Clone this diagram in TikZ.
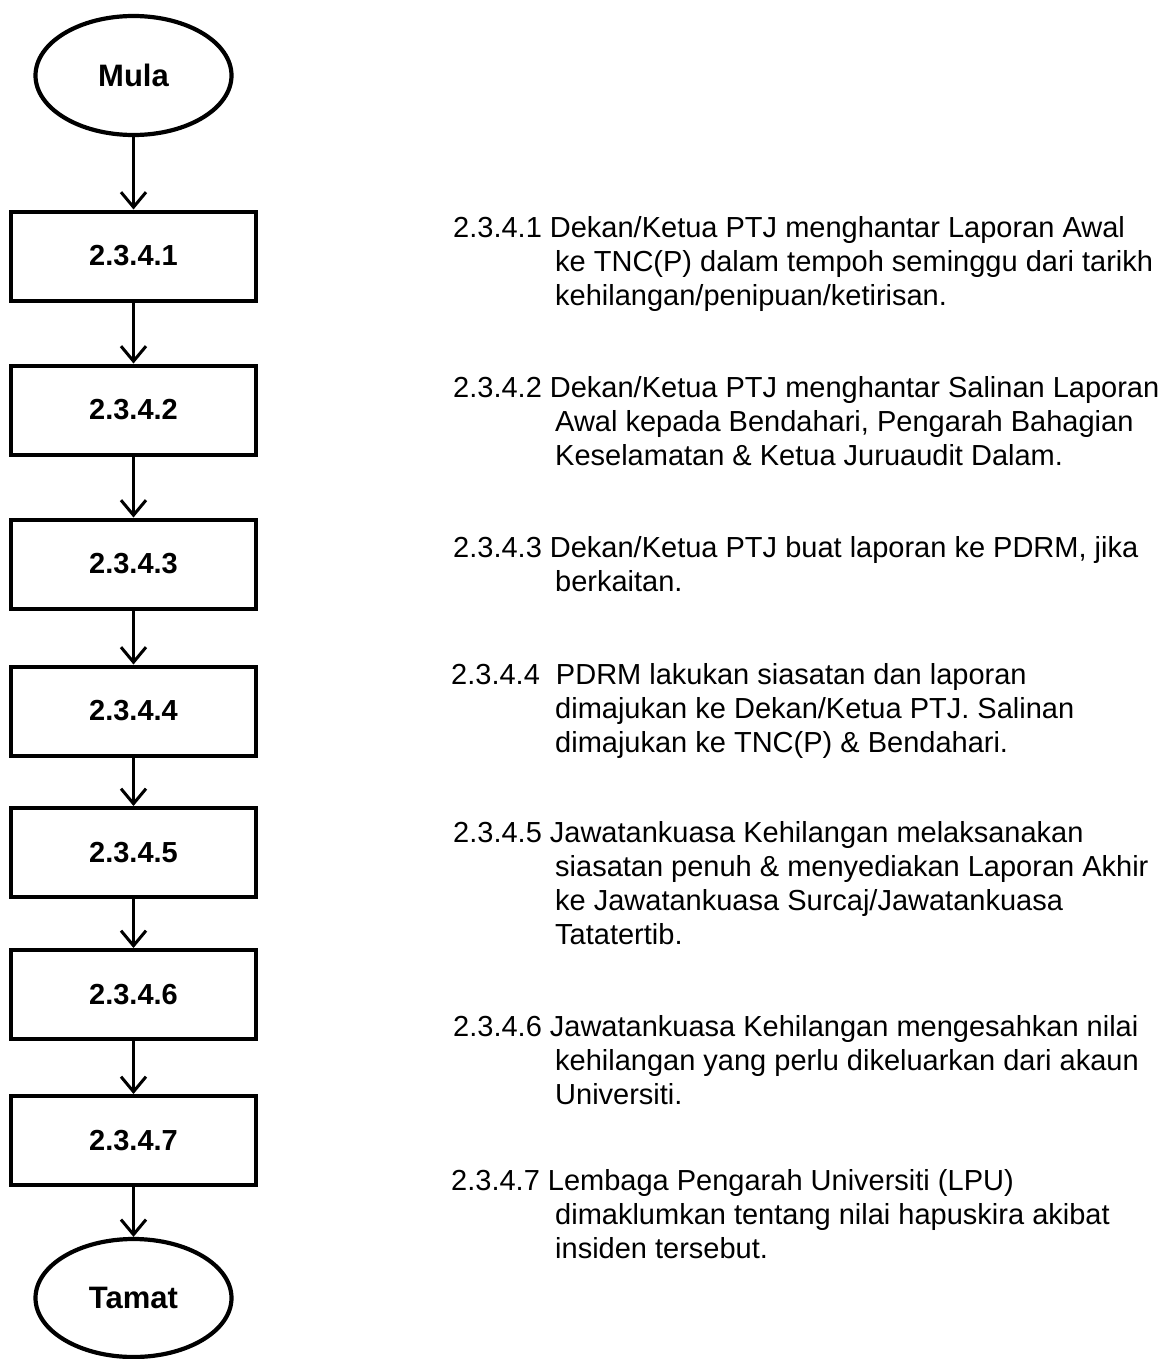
\documentclass[tikz,border=0pt]{standalone}
\usepackage{fontspec}
\setmainfont{Liberation Sans}
\usetikzlibrary{shapes.geometric,arrows.meta}
\begin{document}
\begin{tikzpicture}[x=1pt,y=-1pt,
  stepbox/.style={draw, line width=4pt, minimum width=245pt, minimum height=89pt, inner sep=0pt, font=\fontsize{29}{31}\selectfont\bfseries},
  term/.style={draw, ellipse, line width=4.2pt, minimum width=196pt, minimum height=119pt, inner sep=0pt, font=\fontsize{31}{33}\selectfont\bfseries},
  flow/.style={line width=3pt, -{Straight Barb[length=15pt,width=25pt,line width=3pt]}},
  desc/.style={anchor=base west, inner sep=0pt, font=\fontsize{29}{34}\selectfont},
]
\useasboundingbox (0,0) rectangle (1170,1359);

% flow column
\node[term] (mula) at (133.5,75.5) {Mula};
\node[stepbox] (b1) at (133.5,256) {2.3.4.1};
\node[stepbox] (b2) at (133.5,410) {2.3.4.2};
\node[stepbox] (b3) at (133.5,564) {2.3.4.3};
\node[stepbox] (b4) at (133.5,711) {2.3.4.4};
\node[stepbox] (b5) at (133.5,852.5) {2.3.4.5};
\node[stepbox] (b6) at (133.5,994.5) {2.3.4.6};
\node[stepbox] (b7) at (133.5,1140.5) {2.3.4.7};
\node[term, minimum height=118pt] (tamat) at (133.5,1298) {Tamat};

\draw[flow] (mula.south) -- (b1.north);
\draw[flow] (b1.south) -- (b2.north);
\draw[flow] (b2.south) -- (b3.north);
\draw[flow] (b3.south) -- (b4.north);
\draw[flow] (b4.south) -- (b5.north);
\draw[flow] (b5.south) -- (b6.north);
\draw[flow] (b6.south) -- (b7.north);
\draw[flow] (b7.south) -- (tamat.north);

% descriptions
\node[desc] (t1a) at (453,237) {2.3.4.1 Dekan/Ketua PTJ menghantar Laporan Awal};
\node[desc] (t1b) at (555,271) {ke TNC(P) dalam tempoh seminggu dari tarikh};
\node[desc] (t1c) at (555,305) {kehilangan/penipuan/ketirisan.};

\node[desc] (t2a) at (453,397) {2.3.4.2 Dekan/Ketua PTJ menghantar Salinan Laporan};
\node[desc] (t2b) at (555,431) {Awal kepada Bendahari, Pengarah Bahagian};
\node[desc] (t2c) at (555,465) {Keselamatan \& Ketua Juruaudit Dalam.};

\node[desc] (t3a) at (453,557) {2.3.4.3 Dekan/Ketua PTJ buat laporan ke PDRM, jika};
\node[desc] (t3b) at (555,591) {berkaitan.};

\node[desc] (t4a) at (451,684) {2.3.4.4\ \ PDRM lakukan siasatan dan laporan};
\node[desc] (t4b) at (555,718) {dimajukan ke Dekan/Ketua PTJ. Salinan};
\node[desc] (t4c) at (555,752) {dimajukan ke TNC(P) \& Bendahari.};

\node[desc] (t5a) at (453,842) {2.3.4.5 Jawatankuasa Kehilangan melaksanakan};
\node[desc] (t5b) at (555,876) {siasatan penuh \& menyediakan Laporan Akhir};
\node[desc] (t5c) at (555,910) {ke Jawatankuasa Surcaj/Jawatankuasa};
\node[desc] (t5d) at (555,944) {Tatatertib.};

\node[desc] (t6a) at (453,1036) {2.3.4.6 Jawatankuasa Kehilangan mengesahkan nilai};
\node[desc] (t6b) at (555,1070) {kehilangan yang perlu dikeluarkan dari akaun};
\node[desc] (t6c) at (555,1104) {Universiti.};

\node[desc] (t7a) at (451,1190) {2.3.4.7 Lembaga Pengarah Universiti (LPU)};
\node[desc] (t7b) at (555,1224) {dimaklumkan tentang nilai hapuskira akibat};
\node[desc] (t7c) at (555,1258) {insiden tersebut.};
\end{tikzpicture}
\end{document}
